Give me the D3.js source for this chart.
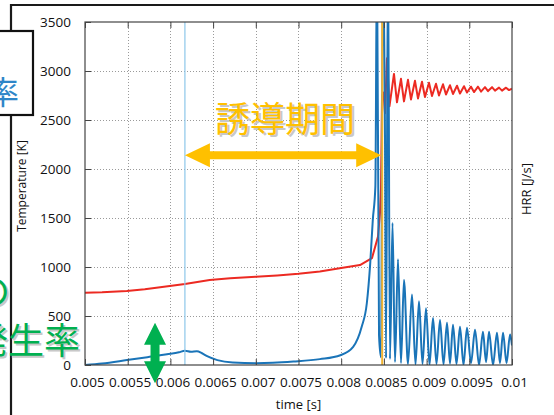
<!DOCTYPE html>
<html><head><meta charset="utf-8">
<script src="https://cdn.jsdelivr.net/npm/d3@7"></script>
<style>
html,body{margin:0;padding:0;background:#fff;overflow:hidden}
svg{display:block}
</style></head><body>
<svg id="c" width="554" height="415"></svg>
<script>
// ---- data ----
const xTicks = [0.005,0.0055,0.006,0.0065,0.007,0.0075,0.008,0.0085,0.009,0.0095,0.01];
const xTickLabels = ["0.005","0.0055","0.006","0.0065","0.007","0.0075","0.008","0.0085","0.009","0.0095","0.01"];
const yTicks = [0,500,1000,1500,2000,2500,3000,3500];
const yTickLabels = ["0","500","1000","1500","2000","2500","3000","3500"];

const tempTime = [0.00500,0.00520,0.00549,0.00570,0.00588,0.00617,0.00646,0.00670,0.00700,0.00725,0.00750,0.00775,0.00800,0.00822,0.00836,0.008431,0.008454,0.008466,0.008478,0.008495,
  0.008513,0.008536,0.008565,0.008618,0.008653,0.008700,0.008735,0.008782,0.008817,0.008864,0.008899,0.008946,0.008981,0.009028,0.009063,
  0.009110,0.009145,0.009192,0.009227,0.009274,0.009309,0.009356,0.009391,0.009438,0.009473,0.009520,0.009555,0.009602,0.009637,0.009684,
  0.009719,0.009766,0.009801,0.009848,0.009883,0.009930,0.009965,0.010000];
const tempValue = [737,742,755,772,793,827,867,884,900,914,930,955,990,1020,1090,1310,1550,1800,2750,2780,
  2570,3130,2640,2970,2680,2920,2690,2910,2710,2900,2720,2890,2735,2880,2745,
  2870,2750,2865,2760,2855,2765,2850,2770,2845,2780,2840,2785,2840,2790,2835,
  2795,2835,2800,2830,2800,2830,2805,2820];

const hrrTime = [0.00500,0.00520,0.00549,0.00573,0.00596,0.00610,0.00617,0.00624,0.00631,0.00637,0.00643,0.00655,0.00673,0.00701,0.00720,
  0.00744,0.00775,0.00799,0.00814,0.00824,0.00830,0.00834,0.00837,0.00840,0.008419,0.008443,0.008466,0.008489,0.008513,0.008525,
  0.008548,0.008571,0.008601,0.008630,0.008665,0.008700,0.008735,0.008782,0.008829,0.008870,0.008911,0.008952,0.008993,0.009034,0.009075,
  0.009116,0.009157,0.009198,0.009239,0.009274,0.009309,0.009350,0.009391,0.009432,0.009473,0.009520,0.009567,0.009614,0.009660,0.009696,
  0.009731,0.009778,0.009824,0.009859,0.009895,0.009936,0.009977,0.010000];
const hrrValue = [0,15,50,80,110,130,145,135,140,120,90,50,25,18,22,
  35,60,100,185,390,630,1040,1480,1820,4200,300,80,4200,2300,70,
  4200,60,1450,30,1080,20,870,10,720,5,650,10,580,0,480,
  10,460,5,430,15,410,10,390,0,380,20,360,0,340,30,
  340,0,330,20,330,20,310,200];

const markerTime = [0.00617, 0.00848];
const periodLabel = "誘導期間";

// ---- layout ----
const svg = d3.select("#c");
const L = 85, R = 512, T = 22, B = 365;
const x = d3.scaleLinear().domain([0.005, 0.01]).range([L, R]);
const y = d3.scaleLinear().domain([0, 3500]).range([B, T]);
const font = "'Open Sans', 'DejaVu Sans', sans-serif";
const cjk = "'Noto Sans CJK JP', sans-serif";

// slide decorations
svg.append("line").attr("x1", 11).attr("x2", 554).attr("y1", 5).attr("y2", 5).attr("stroke", "#1a1a1a").attr("stroke-width", 2.2);
svg.append("line").attr("x1", 11).attr("x2", 11).attr("y1", 4).attr("y2", 415).attr("stroke", "#1a1a1a").attr("stroke-width", 2.2);

// grid
const grid = svg.append("g").attr("stroke", "#9a9a9a").attr("stroke-width", 1).attr("stroke-dasharray", "1,2");
grid.selectAll(".gx").data(xTicks.slice(1, -1)).join("line")
  .attr("x1", d => Math.round(x(d)) + 0.5).attr("x2", d => Math.round(x(d)) + 0.5).attr("y1", T).attr("y2", B);
grid.selectAll(".gy").data(yTicks.slice(1, -1)).join("line")
  .attr("y1", d => Math.round(y(d)) + 0.5).attr("y2", d => Math.round(y(d)) + 0.5).attr("x1", L).attr("x2", R);

// clip
svg.append("clipPath").attr("id", "clip").append("rect").attr("x", L).attr("y", T).attr("width", R - L).attr("height", B - T);
const plot = svg.append("g").attr("clip-path", "url(#clip)");

const tempLine = d3.line().x((d, i) => x(tempTime[i])).y(d => y(d));
plot.append("path").datum(tempValue).attr("d", tempLine).attr("fill", "none")
  .attr("stroke", "#ec2a22").attr("stroke-width", 2).attr("stroke-linejoin", "round");

const hrrLine = d3.line().x((d, i) => x(hrrTime[i])).y(d => y(d)).curve(d3.curveMonotoneX);
plot.append("path").datum(hrrValue).attr("d", hrrLine).attr("fill", "none")
  .attr("stroke", "#1a74b8").attr("stroke-width", 2).attr("stroke-linejoin", "round");

// marker lines
plot.append("line").attr("x1", x(markerTime[0])).attr("x2", x(markerTime[0])).attr("y1", T).attr("y2", B)
  .attr("stroke", "#8cc6ea").attr("stroke-width", 1.2);
plot.append("line").attr("x1", x(markerTime[1])).attr("x2", x(markerTime[1])).attr("y1", T).attr("y2", B)
  .attr("stroke", "#f2b431").attr("stroke-width", 2);

// frame
svg.append("rect").attr("x", L).attr("y", T).attr("width", R - L).attr("height", B - T)
  .attr("fill", "none").attr("stroke", "#444").attr("stroke-width", 1.2);

// axes
const xAxis = svg.append("g").attr("transform", `translate(0,${B})`)
  .call(d3.axisBottom(x).tickValues(xTicks).tickFormat((d, i) => xTickLabels[i]).tickSizeInner(-6).tickSizeOuter(0).tickPadding(12));
xAxis.select(".domain").remove();
xAxis.selectAll("line").attr("stroke", "#444");
xAxis.selectAll("text").attr("font-family", font).attr("font-size", 13.5).attr("fill", "#111").attr("dx", 2);
const xTop = svg.append("g").attr("transform", `translate(0,${T})`)
  .call(d3.axisTop(x).tickValues(xTicks).tickFormat("").tickSizeInner(-6).tickSizeOuter(0));
xTop.select(".domain").remove();
xTop.selectAll("line").attr("stroke", "#444");

const yAxis = svg.append("g").attr("transform", `translate(${L},0)`)
  .call(d3.axisLeft(y).tickValues(yTicks).tickFormat((d, i) => yTickLabels[i]).tickSizeInner(-6).tickSizeOuter(0).tickPadding(14));
yAxis.select(".domain").remove();
yAxis.selectAll("line").attr("stroke", "#444");
yAxis.selectAll("text").attr("font-family", font).attr("font-size", 13.5).attr("fill", "#111");

// axis titles
svg.append("text").attr("x", (L + R) / 2).attr("y", 409).attr("text-anchor", "middle")
  .attr("font-family", font).attr("font-size", 13).attr("fill", "#111").text("time [s]");
svg.append("text").attr("transform", "translate(26,186) rotate(-90)").attr("text-anchor", "middle")
  .attr("font-family", font).attr("font-size", 12).attr("fill", "#111").text("Temperature [K]");
svg.append("text").attr("transform", "translate(531,189) rotate(-90)").attr("text-anchor", "middle")
  .attr("font-family", font).attr("font-size", 13).attr("fill", "#111").text("HRR [J/s]");

// annotation: induction period
const ay = y(2140), x0 = x(markerTime[0]), x1 = x(markerTime[1]) - 1;
const ah = 25, aw = 12, sh = 4;
svg.append("path").attr("fill", "#ffc000").attr("d",
  `M${x0},${ay} L${x0 + ah},${ay - aw} L${x0 + ah},${ay - sh} L${x1 - ah},${ay - sh} L${x1 - ah},${ay - aw} L${x1},${ay} L${x1 - ah},${ay + aw} L${x1 - ah},${ay + sh} L${x0 + ah},${ay + sh} L${x0 + ah},${ay + aw} Z`);
svg.append("text").attr("x", (x0 + x1) / 2 + 4).attr("y", 134).attr("text-anchor", "middle")
  .attr("font-family", cjk).attr("font-size", 35).attr("fill", "#c8c8c8").text(periodLabel);
svg.append("text").attr("x", (x0 + x1) / 2 + 2).attr("y", 132).attr("text-anchor", "middle")
  .attr("font-family", cjk).attr("font-size", 35).attr("fill", "#ffc000").text(periodLabel);

// green vertical arrow
const gx = x(0.00582), gt = y(430), gb = y(-185);
const gw = 11, gh = 22, gs = 4.5;
svg.append("path").attr("fill", "#00b050").attr("d",
  `M${gx},${gt} L${gx + gw},${gt + gh} L${gx + gs},${gt + gh} L${gx + gs},${gb - gh} L${gx + gw},${gb - gh} L${gx},${gb} L${gx - gw},${gb - gh} L${gx - gs},${gb - gh} L${gx - gs},${gt + gh} L${gx - gw},${gt + gh} Z`);

// left slide text
svg.append("rect").attr("x", -5).attr("y", 31).attr("width", 38).attr("height", 84)
  .attr("fill", "#fff").attr("stroke", "#111").attr("stroke-width", 2.2);
svg.append("text").attr("x", 19).attr("y", 104).attr("text-anchor", "end")
  .attr("font-family", cjk).attr("font-size", 32).attr("fill", "#2e86c8").text("率");

const greenText = [["熱の", 10, 305], ["発生率", 80, 354]];
greenText.forEach(([t, tx, ty]) => {
  svg.append("text").attr("x", tx + 2).attr("y", ty + 2).attr("text-anchor", "end")
    .attr("font-family", cjk).attr("font-size", 36).attr("fill", "#c8c8c8").text(t);
  svg.append("text").attr("x", tx).attr("y", ty).attr("text-anchor", "end")
    .attr("font-family", cjk).attr("font-size", 36).attr("fill", "#00b050").text(t);
});
</script>
</body></html>
